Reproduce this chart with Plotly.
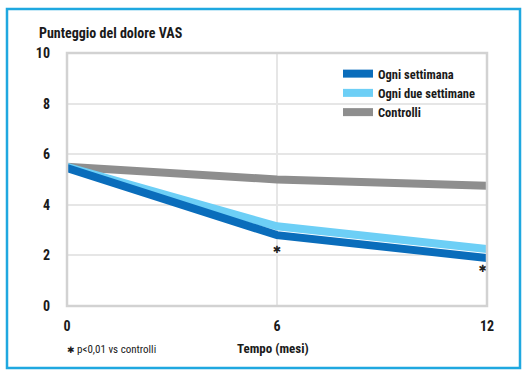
import plotly.graph_objects as go

months = [0, 6, 12]
controlli = [5.5, 5.0, 4.75]
ogni_due = [5.5, 3.15, 2.25]
ogni_sett = [5.45, 2.8, 1.9]
sig_x = [6, 12]
sig_y = [2.2, 1.45]
x_ticks = [0, 6, 12]
y_ticks = [0, 2, 4, 6, 8, 10]

FONT = "Roboto Condensed, DejaVu Sans Condensed, sans-serif"

fig = go.Figure()
fig.add_trace(go.Scatter(x=months, y=controlli, mode="lines", name="Controlli",
                         line=dict(color="#8e8e8e", width=8)))
fig.add_trace(go.Scatter(x=months, y=ogni_due, mode="lines", name="Ogni due settimane",
                         line=dict(color="#6dcff6", width=8)))
fig.add_trace(go.Scatter(x=months, y=ogni_sett, mode="lines", name="Ogni settimana",
                         line=dict(color="#0a6dbb", width=8)))
fig.add_trace(go.Scatter(x=sig_x, y=sig_y, mode="text", text=["✱", "✱"], showlegend=False,
                         cliponaxis=False, textposition=["middle center", "middle left"],
                         textfont=dict(family="DejaVu Sans", size=10, color="#222")))

L, R, T, B = 67, 40, 53, 69
W, H = 527, 375
pw, ph = W - L - R, H - T - B

def px(x):
    return (x - L) / pw

def py(y):
    return (H - B - y) / ph

fig.update_layout(
    width=W, height=H,
    margin=dict(l=L, r=R, t=T, b=B, pad=0),
    paper_bgcolor="white", plot_bgcolor="white",
    font=dict(family=FONT, color="#1a1a1a"),
    xaxis=dict(range=[0, 12], tickvals=x_ticks, showgrid=True, gridcolor="#e6e6e6", gridwidth=1.5,
               zeroline=False, showline=False, ticks="", ticklabelstandoff=10,
               tickfont=dict(size=14, family=FONT, weight="bold"), fixedrange=True),
    yaxis=dict(range=[0, 10], tickvals=y_ticks, showgrid=True, gridcolor="#e6e6e6", gridwidth=1.5,
               zeroline=False, showline=False, ticks="", ticklabelstandoff=16,
               tickfont=dict(size=14, family=FONT, weight="bold"), fixedrange=True),
    legend=dict(x=px(338), y=py(59), xanchor="left", yanchor="top", traceorder="reversed",
                bgcolor="rgba(255,255,255,0)", font=dict(size=12.5, family=FONT, weight="bold"),
                itemwidth=30, tracegroupgap=0),
    showlegend=True,
)

# plot frame
fig.add_shape(type="rect", xref="paper", yref="paper", x0=0, y0=0, x1=1, y1=1,
              line=dict(color="#d2d2d2", width=2.5), layer="above")
# outer cyan border
fig.add_shape(type="rect", xref="paper", yref="paper",
              x0=px(7), x1=px(520), y0=py(368), y1=py(9),
              line=dict(color="#1fa8e0", width=2.5))

fig.add_annotation(x=px(37), y=py(33), xref="paper", yref="paper", text="<b>Punteggio del dolore VAS</b>",
                   showarrow=False, xanchor="left", yanchor="middle", font=dict(size=14, family=FONT))
fig.add_annotation(x=px(273), y=py(348), xref="paper", yref="paper", text="<b>Tempo (mesi)</b>",
                   showarrow=False, xanchor="center", yanchor="middle", font=dict(size=13, family=FONT))
fig.add_annotation(x=px(65), y=py(350), xref="paper", yref="paper",
                   text="<span style='font-family:DejaVu Sans;font-size:9px'>✱</span> p<0,01 vs controlli",
                   showarrow=False, xanchor="left", yanchor="middle", font=dict(size=11, family=FONT))

fig.write_html("out.html", config={"displayModeBar": False},
               post_script="document.body.style.margin='0';document.body.style.overflow='hidden';")
